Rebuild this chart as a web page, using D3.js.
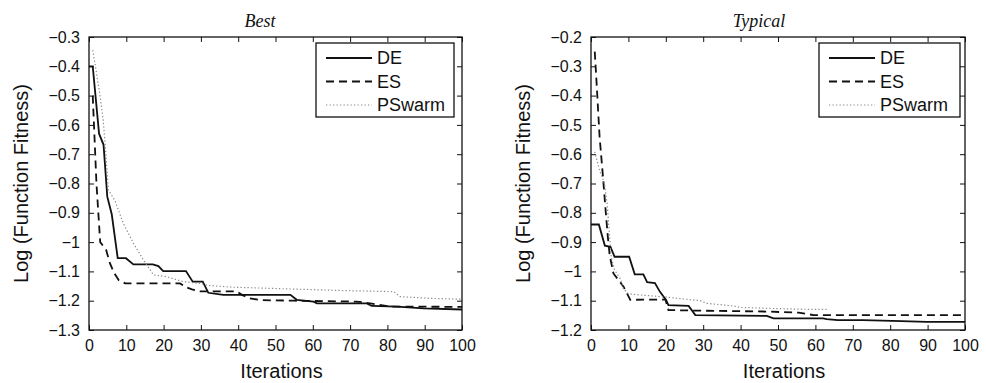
<!DOCTYPE html>
<html>
<head>
<meta charset="utf-8">
<script src="https://cdn.jsdelivr.net/npm/d3@7"></script>
<style>
  body { margin: 0; background: #fff; }
  svg { display: block; }
  .tick text { font-family: "Liberation Sans", Arial, sans-serif; font-size: 16px; fill: #111; }
  .tick line { stroke: #111; }
</style>
</head>
<body>
<svg width="986" height="383"></svg>
<script>
// iterations / log fitness
var seriesNames = ['DE', 'ES', 'PSwarm'];

var bestDE = [[0,-0.40],[1,-0.40],[2.7,-0.63],[3.9,-0.668],[4.9,-0.845],[6.1,-0.905],[7.7,-1.055],[9.9,-1.055],[11.9,-1.076],[17.1,-1.076],[18.6,-1.082],[19.9,-1.099],[26,-1.099],[27.8,-1.135],[30.5,-1.135],[32,-1.173],[36,-1.18],[54,-1.18],[55.7,-1.197],[60.2,-1.203],[61.1,-1.209],[74.5,-1.209],[75.8,-1.218],[82.6,-1.22],[89.7,-1.226],[100,-1.23]];
var bestES = [[1,-0.50],[1.5,-0.65],[2,-0.80],[2.5,-0.90],[3,-1.0],[4.6,-1.027],[5.6,-1.072],[6.8,-1.107],[8,-1.13],[9.7,-1.141],[24.4,-1.141],[26,-1.154],[27.6,-1.161],[29.8,-1.168],[39.6,-1.168],[41,-1.18],[43.2,-1.192],[45.9,-1.198],[55,-1.2],[71.8,-1.203],[75.4,-1.209],[80.8,-1.22],[100,-1.221]];
var bestPS = [[1,-0.345],[1.6,-0.39],[3,-0.504],[3.8,-0.583],[4.3,-0.66],[5.2,-0.822],[7,-0.86],[9.2,-0.936],[11.9,-1.004],[14.6,-1.061],[17.3,-1.112],[20.8,-1.118],[25.3,-1.135],[29.8,-1.141],[32,-1.148],[38.7,-1.154],[54,-1.16],[70,-1.166],[81.7,-1.169],[83.4,-1.186],[91.5,-1.192],[100,-1.195]];

var typDE = [[0,-0.84],[2.1,-0.84],[3.7,-0.912],[5.2,-0.916],[6.3,-0.95],[10.2,-0.95],[11.7,-1.01],[14,-1.01],[15,-1.037],[17.1,-1.04],[18.4,-1.069],[20.1,-1.098],[20.7,-1.115],[26.1,-1.118],[27.9,-1.149],[47,-1.152],[48.8,-1.16],[62.1,-1.16],[63,-1.163],[66,-1.166],[72.8,-1.166],[83,-1.17],[89.8,-1.172],[100,-1.172]];
var typES = [[1,-0.25],[1.4,-0.336],[2.3,-0.541],[3.2,-0.677],[3.9,-0.79],[4.5,-0.882],[5,-0.945],[6,-1.007],[8.7,-1.052],[10.5,-1.097],[19.9,-1.096],[20.7,-1.132],[29.2,-1.134],[47,-1.137],[55.5,-1.141],[59.5,-1.149],[100,-1.149]];
var typPS = [[1,-0.592],[2.3,-0.655],[3.6,-0.70],[4.3,-0.768],[5,-0.882],[5.4,-0.95],[6.3,-0.995],[7.8,-1.024],[8.7,-1.06],[10.1,-1.077],[20.3,-1.088],[29.2,-1.1],[31,-1.109],[38.1,-1.118],[39.9,-1.123],[47,-1.126],[55.9,-1.129],[63.5,-1.13]];

var xTicks = [0, 10, 20, 30, 40, 50, 60, 70, 80, 90, 100];
var bestYTicks = [-0.3, -0.4, -0.5, -0.6, -0.7, -0.8, -0.9, -1, -1.1, -1.2, -1.3];
var typYTicks = [-0.2, -0.3, -0.4, -0.5, -0.6, -0.7, -0.8, -0.9, -1, -1.1, -1.2];

var styles = [
  { stroke: '#111', width: 1.8, dash: null },
  { stroke: '#111', width: 1.8, dash: '8,5' },
  { stroke: '#8a8a8a', width: 1.2, dash: '1.3,2.2' }
];

var svg = d3.select('svg');
var fmt = function(d) { return d3.format('.1f')(d).replace('.0', ''); };

function drawPanel(p) {
  var x = d3.scaleLinear().domain([0, 100]).range([p.left, p.right]);
  var y = d3.scaleLinear().domain(p.yDomain).range([p.bottom, p.top]);
  var g = svg.append('g');

  g.append('clipPath').attr('id', 'clip' + p.id)
    .append('rect').attr('x', p.left).attr('y', p.top)
    .attr('width', p.right - p.left).attr('height', p.bottom - p.top);

  g.append('g').attr('transform', 'translate(0,' + p.bottom + ')')
    .call(d3.axisBottom(x).tickValues(xTicks).tickSizeInner(-5).tickSizeOuter(0).tickPadding(10))
    .call(a => a.select('.domain').remove());
  g.append('g').attr('transform', 'translate(0,' + p.top + ')')
    .call(d3.axisTop(x).tickValues(xTicks).tickSizeInner(-5).tickSizeOuter(0).tickFormat(''))
    .call(a => a.select('.domain').remove());
  g.append('g').attr('transform', 'translate(' + p.left + ',0)')
    .call(d3.axisLeft(y).tickValues(p.yTicks).tickSizeInner(-5).tickSizeOuter(0).tickPadding(9).tickFormat(fmt))
    .call(a => a.select('.domain').remove());
  g.append('g').attr('transform', 'translate(' + p.right + ',0)')
    .call(d3.axisRight(y).tickValues(p.yTicks).tickSizeInner(-5).tickSizeOuter(0).tickFormat(''))
    .call(a => a.select('.domain').remove());

  var line = d3.line().x(d => x(d[0])).y(d => y(d[1]));
  p.series.forEach(function(s, i) {
    g.append('path').datum(s)
      .attr('clip-path', 'url(#clip' + p.id + ')')
      .attr('d', line)
      .attr('fill', 'none')
      .attr('stroke', styles[i].stroke)
      .attr('stroke-width', styles[i].width)
      .attr('stroke-dasharray', styles[i].dash);
  });

  g.append('rect').attr('x', p.left).attr('y', p.top)
    .attr('width', p.right - p.left).attr('height', p.bottom - p.top)
    .attr('fill', 'none').attr('stroke', '#111').attr('stroke-width', 1.3);

  // title
  g.append('text').text(p.title)
    .attr('x', p.titleX).attr('y', 27)
    .attr('text-anchor', 'middle')
    .style('font-family', '"Liberation Serif", "Times New Roman", serif')
    .style('font-style', 'italic').style('font-size', '18px').style('fill', '#111');

  g.append('text').text('Iterations')
    .attr('x', (p.left + p.right) / 2 + 6).attr('y', 378)
    .attr('text-anchor', 'middle')
    .style('font-family', '"Liberation Sans", Arial, sans-serif')
    .style('font-size', '20px').style('fill', '#111');

  g.append('text').text('Log (Function Fitness)')
    .attr('text-anchor', 'middle')
    .attr('transform', 'translate(' + p.yLabelX + ',' + ((p.top + p.bottom) / 2) + ') rotate(-90)')
    .style('font-family', '"Liberation Sans", Arial, sans-serif')
    .style('font-size', '20px').style('fill', '#111');

  // legend
  var lg = g.append('g').attr('transform', 'translate(' + p.legX + ',43)');
  lg.append('rect').attr('width', p.legW).attr('height', 74)
    .attr('fill', '#fff').attr('stroke', '#111').attr('stroke-width', 1.3);
  seriesNames.forEach(function(n, i) {
    var ly = 15 + i * 23.5;
    lg.append('line').attr('x1', 10).attr('x2', 56).attr('y1', ly).attr('y2', ly)
      .attr('stroke', styles[i].stroke).attr('stroke-width', styles[i].width)
      .attr('stroke-dasharray', styles[i].dash);
    lg.append('text').text(n).attr('x', 61).attr('y', ly).attr('dy', '0.36em')
      .style('font-family', '"Liberation Sans", Arial, sans-serif')
      .style('font-size', '18px').style('fill', '#111');
  });
}

drawPanel({ id: 'a', left: 89, right: 462, top: 37, bottom: 330, yDomain: [-1.3, -0.3], yTicks: bestYTicks,
  series: [bestDE, bestES, bestPS], title: 'Best', titleX: 260, yLabelX: 28, legX: 316, legW: 138 });
drawPanel({ id: 'b', left: 591, right: 965, top: 37, bottom: 330, yDomain: [-1.2, -0.2], yTicks: typYTicks,
  series: [typDE, typES, typPS], title: 'Typical', titleX: 759, yLabelX: 530, legX: 819, legW: 141 });
</script>
</body>
</html>
